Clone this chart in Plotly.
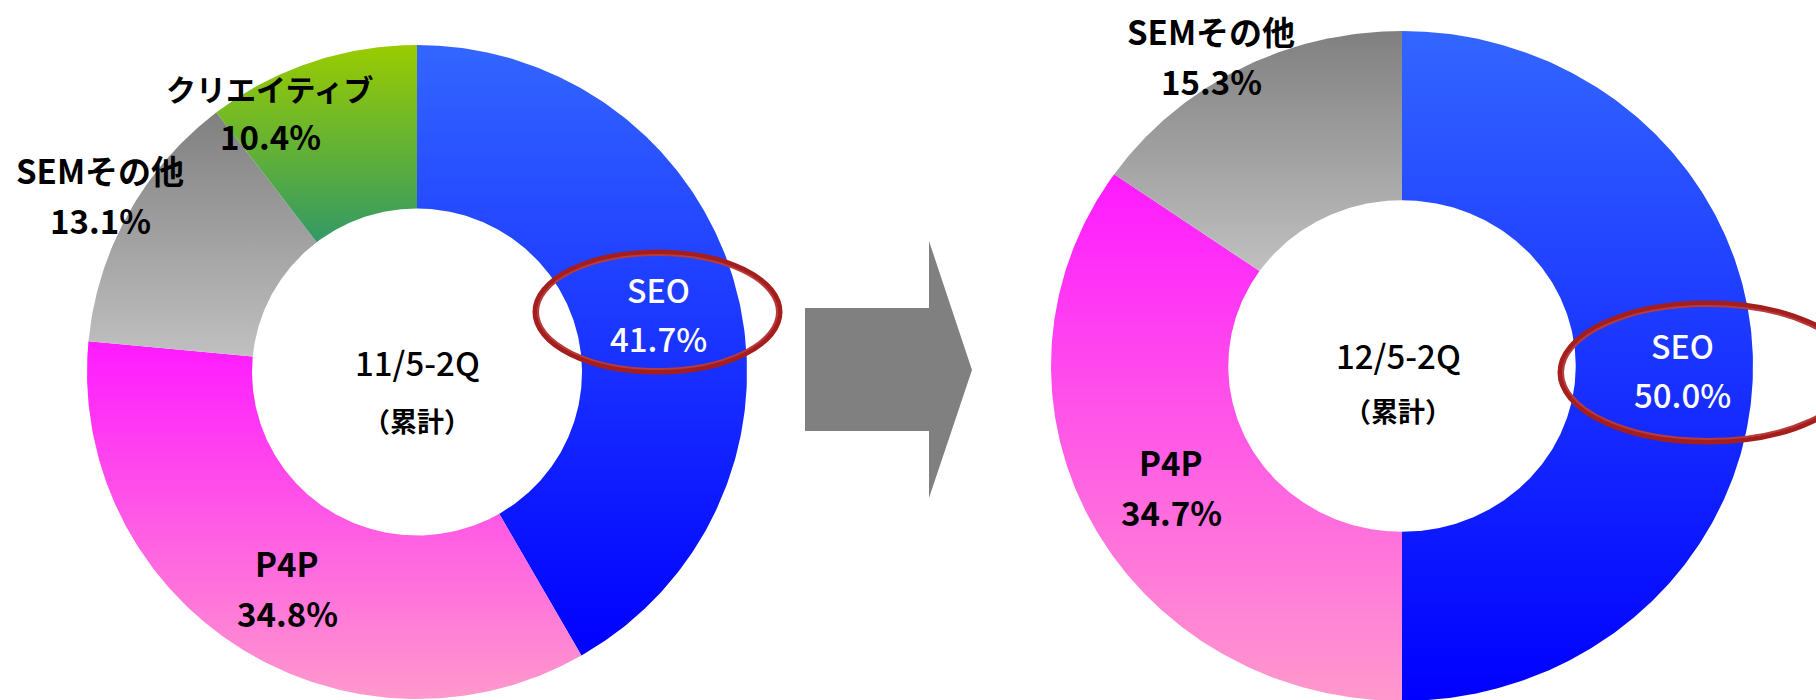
import numpy as np
import plotly.graph_objects as go

# ---- data ----
left_period = "11/5-2Q"
right_period = "12/5-2Q"
cumulative_label = "（累計）"
left_labels = ["SEO", "P4P", "SEMその他", "クリエイティブ"]
left_values = [41.7, 34.8, 13.1, 10.4]
right_labels = ["SEO", "P4P", "SEMその他"]
right_values = [50.0, 34.7, 15.3]

# ---- styles ----
gradients = {
    "SEO": ("#3366FF", "#0000FF"),
    "P4P": ("#FF1AFF", "#FF99CC"),
    "SEMその他": ("#808080", "#C0C0C0"),
    "クリエイティブ": ("#99CC00", "#339966"),
}
FONT = "Noto Sans CJK JP"

fig = go.Figure()


def add_donut(labels, values, cx, cy, rx, ry, hole):
    total = float(sum(values))
    cum = 0.0
    for lab, v in zip(labels, values):
        f0, f1 = cum / total, (cum + v) / total
        cum += v
        n = max(int(600 * (f1 - f0)), 10)
        t = np.linspace(f0, f1, n) * 2 * np.pi
        xo = cx + rx * np.sin(t)
        yo = cy - ry * np.cos(t)
        tr = t[::-1]
        xi = cx + hole * rx * np.sin(tr)
        yi = cy - hole * ry * np.cos(tr)
        x = np.concatenate([xo, xi, xo[:1]])
        y = np.concatenate([yo, yi, yo[:1]])
        top, bottom = gradients[lab]
        fig.add_trace(go.Scatter(
            x=x, y=y, mode="lines", line=dict(width=0, color=top),
            fill="toself", fillcolor=top,
            fillgradient=dict(type="vertical", colorscale=[[0, bottom], [1, top]]),
            hoverinfo="skip", showlegend=False, name=lab))


add_donut(left_labels, left_values, 417, 372, 330, 327, 0.5)
add_donut(right_labels, right_values, 1402, 366, 351, 335, 0.495)

# label placement: x, y between name line and value line, white?, name font size
label_pos_left = {
    "SEO": (658, 313, True, 32),
    "P4P": (287, 588, False, 33),
    "SEMその他": (100, 195, False, 33),
    "クリエイティブ": (270, 111, False, 30),
}
label_pos_right = {
    "SEO": (1682, 369, True, 32),
    "P4P": (1171, 487, False, 33),
    "SEMその他": (1211, 56, False, 33),
}

annotations = []
for labels, values, pos in [(left_labels, left_values, label_pos_left),
                            (right_labels, right_values, label_pos_right)]:
    for lab, v in zip(labels, values):
        x, ymid, white, nsize = pos[lab]
        color = "white" if white else "black"
        weight = 500 if white else "bold"
        annotations.append(dict(
            x=x, y=ymid, xref="x", yref="y", showarrow=False, text=lab,
            yanchor="bottom", borderpad=0,
            font=dict(family=FONT, size=nsize, color=color, weight=weight)))
        annotations.append(dict(
            x=x, y=ymid, xref="x", yref="y", showarrow=False, text=f"{v:.1f}%",
            yanchor="top", borderpad=0,
            font=dict(family=FONT, size=33, color=color, weight=weight)))

for period, cx, y1, y2 in [(left_period, 417, 362, 420), (right_period, 1398, 355, 410)]:
    annotations.append(dict(x=cx, y=y1, xref="x", yref="y", showarrow=False,
                            text=period, font=dict(family=FONT, size=33, color="black", weight=500)))
    annotations.append(dict(x=cx, y=y2, xref="x", yref="y", showarrow=False,
                            text=cumulative_label,
                            font=dict(family=FONT, size=27, color="black", weight="bold")))

shapes = [
    # arrow
    dict(type="path", xref="x", yref="y",
         path="M 805,308 L 929,308 L 929,241 L 972,370 L 929,498 L 929,431 L 805,431 Z",
         fillcolor="#808080", line=dict(width=0), layer="above"),
    # red hand-drawn ellipses
    dict(type="circle", xref="x", yref="y", x0=535, x1=780, y0=252, y1=372,
         line=dict(color="#A51E1E", width=5), layer="above"),
    dict(type="circle", xref="x", yref="y", x0=538, x1=777, y0=255, y1=369,
         line=dict(color="#B83A3A", width=2), layer="above"),
    dict(type="circle", xref="x", yref="y", x0=1560, x1=1855, y0=303, y1=442,
         line=dict(color="#A51E1E", width=5), layer="above"),
    dict(type="circle", xref="x", yref="y", x0=1563, x1=1852, y0=306, y1=439,
         line=dict(color="#B83A3A", width=2), layer="above"),
]

fig.update_layout(
    width=1816, height=700,
    margin=dict(l=0, r=0, t=0, b=0),
    paper_bgcolor="white", plot_bgcolor="white",
    xaxis=dict(range=[0, 1816], visible=False, showgrid=False, zeroline=False, fixedrange=True),
    yaxis=dict(range=[700, 0], visible=False, showgrid=False, zeroline=False, fixedrange=True),
    annotations=annotations, shapes=shapes, showlegend=False,
)

fig.write_html("out.html", config={"displayModeBar": False},
               post_script="document.body.style.margin='0';document.body.style.overflow='hidden';")
